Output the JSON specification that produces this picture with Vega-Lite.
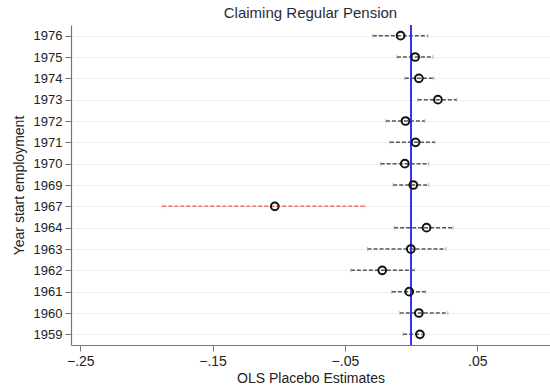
{
  "$schema": "https://vega.github.io/schema/vega-lite/v6.json",
  "autosize": "none",
  "width": 479,
  "height": 320,
  "padding": {"left": 71, "top": 25, "right": 0, "bottom": 46},
  "background": "white",
  "config": {
    "font": "Liberation Sans",
    "view": {"stroke": null},
    "axis": {"labelFont": "Liberation Sans", "titleFont": "Liberation Sans", "titleFontWeight": "normal", "labelColor": "#222", "titleColor": "#222", "domainColor": "#777", "tickColor": "#777"}
  },
  "title": {"text": "Claiming Regular Pension", "fontSize": 15, "fontWeight": "normal", "color": "#1e2d3e", "anchor": "middle", "offset": 3, "font": "Liberation Sans"},
  "data": {"values": [
    {"year": "1976", "est": -0.0079, "lo": -0.0289, "hi": 0.0127},
    {"year": "1975", "est": 0.0031, "lo": -0.0107, "hi": 0.0165},
    {"year": "1974", "est": 0.0059, "lo": -0.0047, "hi": 0.0172},
    {"year": "1973", "est": 0.0203, "lo": 0.0051, "hi": 0.0346},
    {"year": "1972", "est": -0.0042, "lo": -0.019, "hi": 0.0104},
    {"year": "1971", "est": 0.0034, "lo": -0.016, "hi": 0.018},
    {"year": "1970", "est": -0.0047, "lo": -0.023, "hi": 0.0134},
    {"year": "1969", "est": 0.0017, "lo": -0.0135, "hi": 0.0134},
    {"year": "1967", "est": -0.103, "lo": -0.188, "hi": -0.0349},
    {"year": "1964", "est": 0.0117, "lo": -0.0128, "hi": 0.0318},
    {"year": "1963", "est": -0.0002, "lo": -0.0329, "hi": 0.0263},
    {"year": "1962", "est": -0.0218, "lo": -0.0455, "hi": 0.0026},
    {"year": "1961", "est": -0.0014, "lo": -0.0145, "hi": 0.011},
    {"year": "1960", "est": 0.0059, "lo": -0.0085, "hi": 0.0278},
    {"year": "1959", "est": 0.0067, "lo": -0.006, "hi": 0.0082}
  ]},
  "encoding": {
    "y": {"field": "year", "type": "nominal", "sort": null, "scale": {"type": "point", "padding": 0.5},
      "axis": {"title": "Year start employment", "titleFontSize": 14, "titlePadding": 7, "labelFontSize": 13, "tickSize": 6, "labelPadding": 3, "grid": true, "gridColor": "#e9f1f3", "gridWidth": 1.2, "domainWidth": 1.2}}
  },
  "layer": [
    {
      "mark": {"type": "rule", "strokeWidth": 1.5, "strokeDash": [4, 2]},
      "encoding": {
        "x": {"field": "lo", "type": "quantitative", "scale": {"domain": [-0.257, 0.105], "nice": false, "zero": false},
          "axis": {"title": "OLS Placebo Estimates", "titleFontSize": 14, "titlePadding": 3, "labelFontSize": 14, "values": [-0.25, -0.15, -0.05, 0.05], "labelExpr": "replace(format(datum.value, '.2f'), '0.', '.')", "tickSize": 6, "labelPadding": 3, "grid": false, "domainWidth": 1.2}},
        "x2": {"field": "hi"},
        "color": {"condition": {"test": "datum.year === '1967'", "value": "#f26b6b"}, "value": "#555555"}
      }
    },
    {
      "mark": {"type": "tick", "size": 4, "thickness": 1},
      "encoding": {
        "x": {"field": "lo", "type": "quantitative"},
        "color": {"condition": {"test": "datum.year === '1967'", "value": "#f5a0a0"}, "value": "#999999"}
      }
    },
    {
      "mark": {"type": "tick", "size": 4, "thickness": 1},
      "encoding": {
        "x": {"field": "hi", "type": "quantitative"},
        "color": {"condition": {"test": "datum.year === '1967'", "value": "#f5a0a0"}, "value": "#999999"}
      }
    },
    {
      "mark": {"type": "rule", "color": "#3535f0", "strokeWidth": 1.5},
      "encoding": {"x": {"datum": 0, "type": "quantitative"}, "y": {"value": 0}, "y2": {"value": 320}}
    },
    {
      "mark": {"type": "point", "shape": "circle", "filled": false, "size": 60, "strokeWidth": 2, "color": "#111111", "opacity": 1},
      "encoding": {"x": {"field": "est", "type": "quantitative"}}
    }
  ]
}
